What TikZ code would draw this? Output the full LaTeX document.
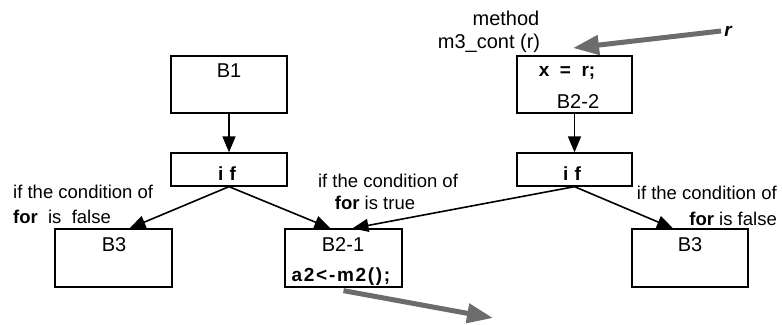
\documentclass[tikz,border=0pt]{standalone}
\usepackage{fontspec}
\setmainfont{Liberation Sans}
\usetikzlibrary{arrows.meta}
\begin{document}
\begin{tikzpicture}[x=1pt,y=-1pt,
  block/.style={draw=black,line width=1.3pt,inner sep=0pt},
  txt/.style={inner sep=0pt,font=\fontsize{20}{22}\selectfont},
  cond/.style={inner sep=0pt,font=\fontsize{18.5}{20}\selectfont},
  flow/.style={line width=1.6pt,-{Triangle[length=16pt,width=13pt]}},
  flowin/.style={draw=gray!85!black,line width=5pt,-{Triangle[length=26pt,width=19pt]}},
  codefont/.style={font=\fontsize{19}{21}\selectfont\bfseries}
]
\useasboundingbox (0,0) rectangle (783,324);

% basic blocks
\node[block,minimum width=116pt,minimum height=57pt] (B1)  at (229,84.5)  {};
\node[block,minimum width=116pt,minimum height=33pt] (if1) at (229,169.5) {};
\node[block,minimum width=117pt,minimum height=58pt] (B3L) at (113.5,258) {};
\node[block,minimum width=117pt,minimum height=58pt] (B21) at (343.5,258) {};
\node[block,minimum width=115pt,minimum height=57pt] (B22) at (574.5,84.5) {};
\node[block,minimum width=115pt,minimum height=33pt] (if2) at (574.5,169.5) {};
\node[block,minimum width=116pt,minimum height=58pt] (B3R) at (690,258)   {};

% block contents
\node[txt] (tB1)  at (229,71)  {B1};
\node[txt,codefont] (tif1) at (227,174) {i\,\,f};
\node[txt] (tB3L) at (114,245) {B3};
\node[txt] (tB21) at (343,245) {B2-1};
\node[txt,codefont] (tcall) at (341,277) {\addfontfeature{LetterSpace=9}a2<-m2();};
\node[txt,codefont] (tx) at (567,73) {x\ \ =\ \ r;};
\node[txt] (tB22) at (578,102) {B2-2};
\node[txt,codefont] (tif2) at (572,174) {i\,\,f};
\node[txt] (tB3R) at (690,245) {B3};

% branch labels
\node[cond,anchor=west] (c1a) at (13,192) {if the condition of};
\node[cond,anchor=west] (c1b) at (13,217) {\textbf{for}\ \ is\ \ false};
\node[cond] (c2a) at (388,181) {if the condition of};
\node[cond] (c2b) at (375,203) {\textbf{for}\ is true};
\node[cond,anchor=east] (c3a) at (777,193) {if the condition of};
\node[cond,anchor=east] (c3b) at (777,219) {\textbf{for}\ is false};

% method header and parameter
\node[txt] (meth) at (506,18) {method};
\node[txt] (mname) at (489,43) {m3\_cont (r)};
\node[txt,font=\fontsize{19}{21}\selectfont\bfseries\itshape] (rpar) at (728,31) {r};

% free ends of the parameter/call arrows
\coordinate (rtip) at (573,48);
\coordinate (callend) at (493,318);

% control flow
\draw[flow] (B1.south) -- (if1.north);
\draw[flow] (B22.south) -- (if2.north);
\draw[flow] (if1.south) -- ([xshift=16pt]B3L.north);
\draw[flow] (if1.south) -- ([xshift=-13pt]B21.north);
\draw[flow] (if2.south) -- ([xshift=9pt]B21.north);
\draw[flow] (if2.south) -- ([xshift=-17pt]B3R.north);

% data flow
\draw[flowin] ([xshift=-3pt]rpar.west) -- (rtip);
\draw[flowin] ([yshift=-3pt]B21.south) -- (callend);
\end{tikzpicture}
\end{document}
